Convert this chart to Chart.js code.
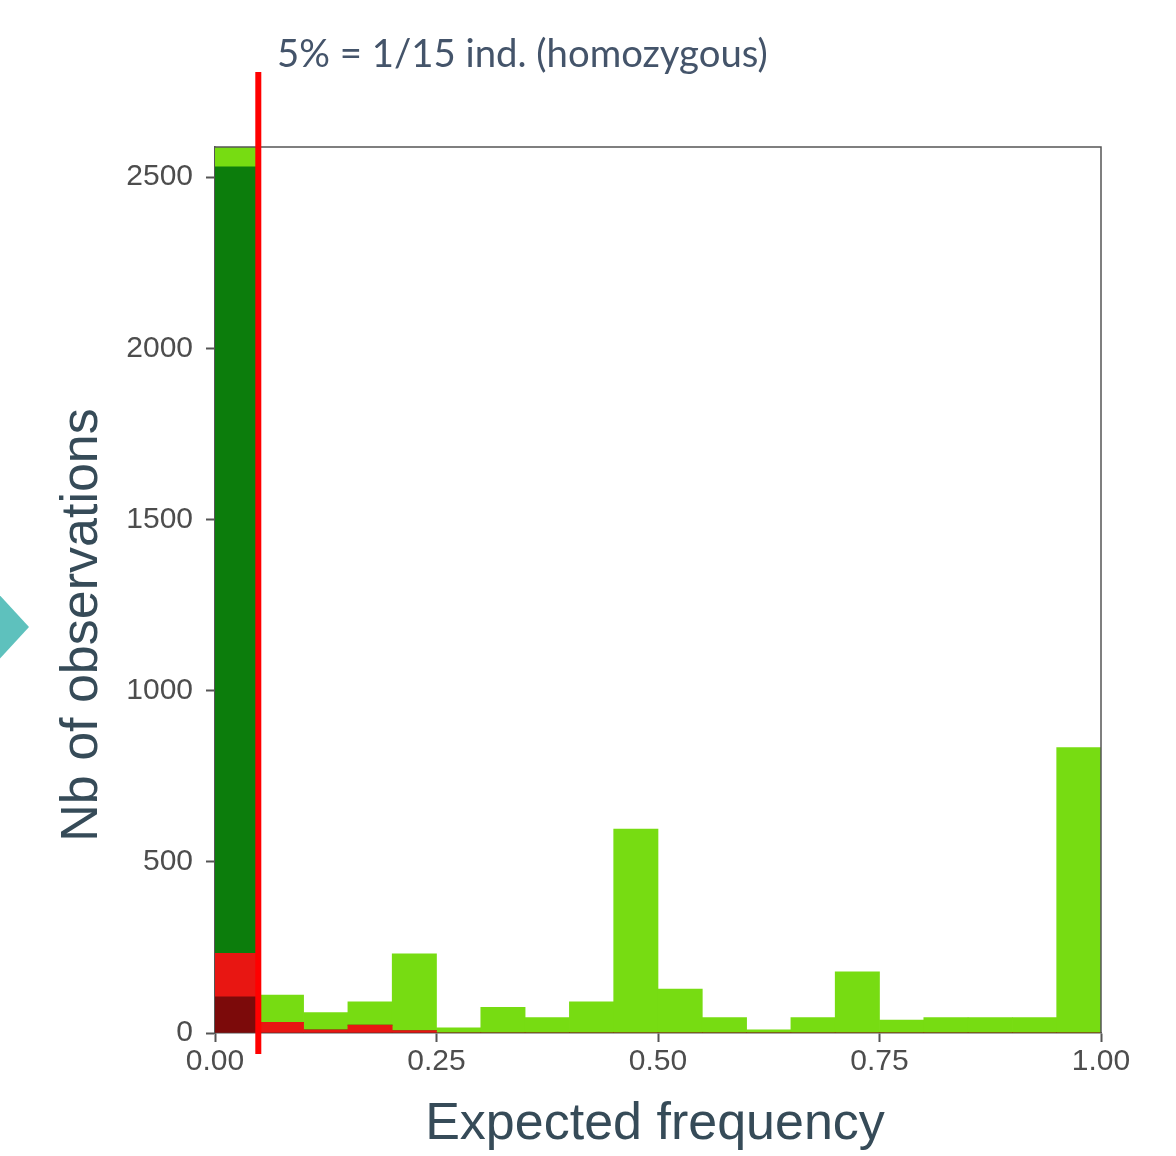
<!DOCTYPE html>
<html>
<head>
<meta charset="utf-8">
<script src="https://cdn.jsdelivr.net/npm/chart.js@4.4.1/dist/chart.umd.min.js"></script>
<style>
  html, body { margin: 0; padding: 0; background: #fff; }
  canvas { display: block; }
</style>
</head>
<body>
<canvas id="hist" width="1176" height="1156"></canvas>
<script>
// histogram bins of width 0.05 on [0, 1]
var binCenters = [0.025, 0.075, 0.125, 0.175, 0.225, 0.275, 0.325, 0.375, 0.425, 0.475,
                  0.525, 0.575, 0.625, 0.675, 0.725, 0.775, 0.825, 0.875, 0.925, 0.975];
var darkRed   = [106, 0, 0, 0, 0, 0, 0, 0, 0, 0, 0, 0, 0, 0, 0, 0, 0, 0, 0, 0];
var red       = [127, 31, 9, 23, 7, 0, 0, 0, 0, 0, 0, 0, 0, 0, 0, 0, 0, 0, 0, 0];
var darkGreen = [2297, 0, 0, 0, 0, 0, 0, 0, 0, 0, 0, 0, 0, 0, 0, 0, 0, 0, 0, 0];
var lightGreen = [61, 80, 51, 68, 224, 15, 75, 45, 91, 596, 128, 45, 9, 45, 179, 38, 45, 45, 45, 834];
var yTicks = [0, 500, 1000, 1500, 2000, 2500];
var xTicks = [0, 0.25, 0.5, 0.75, 1];
var threshold = 0.05;
var thresholdLabel = '5% = 1/15 ind. (homozygous)';

function pts(arr) {
    return arr.map(function (v, i) { return { x: binCenters[i], y: v }; });
}

var extras = {
    id: 'extras',
    afterDraw: function (chart) {
        var c = chart.ctx, a = chart.chartArea;
        var xs = chart.scales.x;
        c.save();
        // panel frame (top and right)
        c.strokeStyle = '#555';
        c.lineWidth = 1.5;
        c.beginPath();
        c.moveTo(a.left, a.top);
        c.lineTo(a.right, a.top);
        c.lineTo(a.right, a.bottom);
        c.stroke();

        // threshold line
        var px = xs.getPixelForValue(threshold) - 1;
        c.strokeStyle = '#ff0000';
        c.lineWidth = 6;
        c.beginPath();
        c.moveTo(px, 72);
        c.lineTo(px, 1054);
        c.stroke();

        // annotation
        c.fillStyle = '#44546a';
        c.font = '34px Lato';
        var w = c.measureText(thresholdLabel).width;
        c.font = (34 * 491 / w).toFixed(1) + 'px Lato';
        c.textBaseline = 'alphabetic';
        c.textAlign = 'left';
        c.fillText(thresholdLabel, 277, 67);

        // axis titles
        c.fillStyle = '#364b58';
        c.font = '52px "Liberation Sans", Arial, sans-serif';
        c.textAlign = 'center';
        c.fillText('Expected frequency', 655, 1139);
        c.translate(97, 625);
        c.rotate(-Math.PI / 2);
        c.fillText('Nb of observations', 0, 0);
        c.restore();

        // slide decoration on the left edge
        c.save();
        c.fillStyle = '#5ec1bd';
        c.beginPath();
        c.moveTo(-5, 590);
        c.lineTo(29, 627);
        c.lineTo(-5, 664);
        c.closePath();
        c.fill();
        c.restore();
    }
};

var tickFont = { family: '"Liberation Sans", Arial, sans-serif', size: 30 };

new Chart(document.getElementById('hist').getContext('2d'), {
    type: 'bar',
    data: {
        datasets: [
            { label: 'dark red', data: pts(darkRed), backgroundColor: '#7c0a0a' },
            { label: 'red', data: pts(red), backgroundColor: '#e81612' },
            { label: 'dark green', data: pts(darkGreen), backgroundColor: '#0c7d0c' },
            { label: 'light green', data: pts(lightGreen), backgroundColor: '#77dc12' }
        ]
    },
    options: {
        responsive: false,
        animation: false,
        layout: { padding: { top: 147, right: 75, left: 0, bottom: 0 } },
        datasets: { bar: { categoryPercentage: 1, barPercentage: 1, borderWidth: 0 } },
        plugins: { legend: { display: false }, tooltip: { enabled: false } },
        scales: {
            x: {
                type: 'linear',
                stacked: true,
                offset: false,
                min: 0,
                max: 1,
                afterFit: function (s) { s.height = 123; },
                afterBuildTicks: function (s) { s.ticks = xTicks.map(function (v) { return { value: v }; }); },
                ticks: {
                    color: '#4d4d4d',
                    font: tickFont,
                    padding: 2,
                    maxRotation: 0,
                    callback: function (v) { return Number(v).toFixed(2); }
                },
                grid: { drawOnChartArea: false, offset: false, tickLength: 9, color: '#555', tickWidth: 2 },
                border: { color: '#555', width: 1.5 }
            },
            y: {
                stacked: true,
                min: 0,
                max: 2588,
                afterFit: function (s) { s.width = 215; },
                afterBuildTicks: function (s) { s.ticks = yTicks.map(function (v) { return { value: v }; }); },
                ticks: {
                    color: '#4d4d4d',
                    font: tickFont,
                    padding: 13,
                    callback: function (v) { return String(v); }
                },
                grid: { drawOnChartArea: false, offset: false, tickLength: 9, color: '#555', tickWidth: 2 },
                border: { color: '#555', width: 1.5 }
            }
        }
    },
    plugins: [extras]
});
</script>
</body>
</html>
